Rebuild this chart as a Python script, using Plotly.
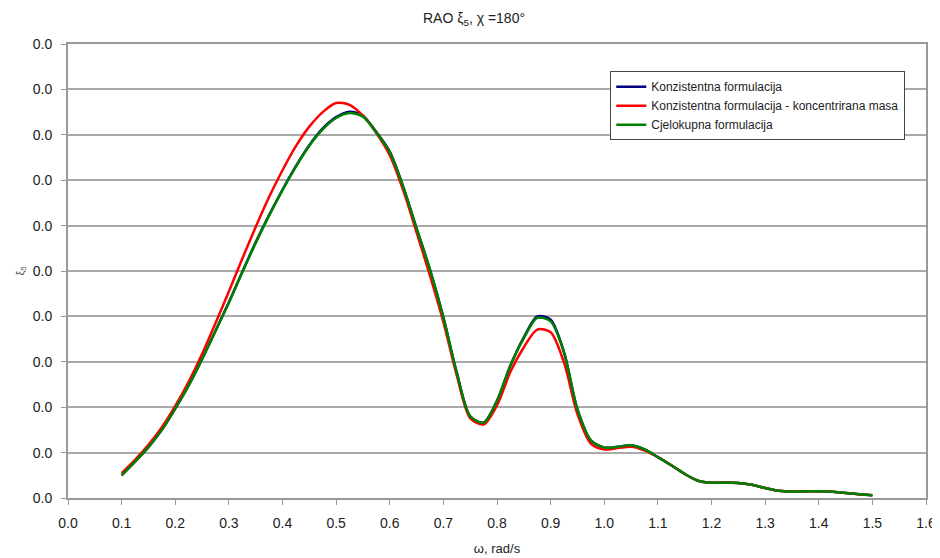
import plotly.graph_objects as go

# frequency points (rad/s)
omega = [0.100, 0.125, 0.150, 0.175, 0.200, 0.225, 0.250, 0.275, 0.300, 0.325,
         0.350, 0.375, 0.400, 0.425, 0.450, 0.475, 0.500, 0.525, 0.550, 0.575,
         0.600, 0.625, 0.650, 0.675, 0.700, 0.725, 0.750, 0.775, 0.800, 0.825,
         0.850, 0.875, 0.900, 0.925, 0.950, 0.975, 1.000, 1.025, 1.050, 1.075,
         1.100, 1.125, 1.150, 1.175, 1.200, 1.225, 1.250, 1.275, 1.300, 1.325,
         1.350, 1.375, 1.400, 1.425, 1.450, 1.475, 1.500]

konz = [0.50, 0.80, 1.12, 1.50, 1.97, 2.48, 3.06, 3.68, 4.31, 4.98,
        5.63, 6.23, 6.79, 7.31, 7.77, 8.14, 8.39, 8.51, 8.42, 8.06,
        7.63, 6.86, 5.94, 5.03, 3.98, 2.76, 1.80, 1.66, 2.14, 2.92,
        3.54, 4.00, 3.93, 3.21, 1.95, 1.27, 1.11, 1.13, 1.16, 1.07,
        0.90, 0.72, 0.53, 0.38, 0.335, 0.34, 0.33, 0.29, 0.22, 0.16,
        0.14, 0.145, 0.15, 0.14, 0.11, 0.085, 0.06]

konz_masa = [0.55, 0.84, 1.17, 1.56, 2.03, 2.56, 3.17, 3.85, 4.55, 5.27,
             5.97, 6.63, 7.22, 7.75, 8.18, 8.50, 8.70, 8.66, 8.42, 8.04,
             7.55, 6.78, 5.85, 4.90, 3.88, 2.70, 1.76, 1.62, 2.04, 2.78,
             3.32, 3.71, 3.65, 2.98, 1.85, 1.20, 1.07, 1.10, 1.13, 1.05,
             0.90, 0.72, 0.53, 0.38, 0.335, 0.34, 0.33, 0.29, 0.22, 0.16,
             0.14, 0.145, 0.15, 0.14, 0.11, 0.085, 0.06]

cjelokupna = [0.50, 0.80, 1.12, 1.50, 1.97, 2.48, 3.06, 3.68, 4.30, 4.97,
              5.62, 6.22, 6.78, 7.30, 7.76, 8.12, 8.37, 8.48, 8.40, 8.05,
              7.62, 6.86, 5.94, 5.03, 3.98, 2.76, 1.80, 1.66, 2.14, 2.92,
              3.52, 3.97, 3.89, 3.20, 1.95, 1.27, 1.11, 1.13, 1.16, 1.07,
              0.90, 0.72, 0.53, 0.38, 0.335, 0.34, 0.33, 0.29, 0.22, 0.16,
              0.14, 0.145, 0.15, 0.14, 0.11, 0.085, 0.06]

y_ticks = [0, 1, 2, 3, 4, 5, 6, 7, 8, 9, 10]
y_labels = ["0.0"] * 11
x_ticks = [0.0, 0.1, 0.2, 0.3, 0.4, 0.5, 0.6, 0.7, 0.8, 0.9, 1.0,
           1.1, 1.2, 1.3, 1.4, 1.5, 1.6]

series = [
    ("Konzistentna formulacija", konz, "#000080"),
    ("Konzistentna formulacija - koncentrirana masa", konz_masa, "#ff0000"),
    ("Cjelokupna formulacija", cjelokupna, "#008000"),
]

fig = go.Figure()
for name, vals, col in series:
    fig.add_trace(go.Scatter(
        x=omega, y=vals, name=name, mode="lines",
        line=dict(color=col, width=2.5, shape="spline", smoothing=0.8),
    ))

font_main = "Liberation Sans, Arial, sans-serif"

fig.update_xaxes(
    range=[0, 1.6],
    tickvals=x_ticks,
    ticktext=[f"{v:.1f}" for v in x_ticks],
    ticks="outside", ticklen=5, tickcolor="#999999", tickwidth=1,
    ticklabelstandoff=6,
    showline=True, linecolor="#999999", linewidth=2, mirror=True,
    showgrid=False, zeroline=False, automargin=False,
    tickfont=dict(size=14, color="#222222", family=font_main),
    title=dict(text="ω, rad/s", font=dict(size=13, color="#222222", family=font_main),
               standoff=14),
)
fig.update_yaxes(
    range=[0, 10],
    tickvals=y_ticks,
    ticktext=y_labels,
    ticks="outside", ticklen=5, tickcolor="#999999", tickwidth=1,
    ticklabelstandoff=6,
    showline=True, linecolor="#999999", linewidth=2, mirror=True,
    showgrid=True, gridcolor="#aaaaaa", gridwidth=2, zeroline=False,
    automargin=False,
    tickfont=dict(size=14, color="#222222", family=font_main),
    title=dict(text="ξ<sub>5</sub>", font=dict(size=11, color="#555555", family=font_main),
               standoff=6),
)

# page body has an 8px margin, so the figure is a bit smaller than the window
fig.update_layout(
    width=932, height=550,
    paper_bgcolor="white", plot_bgcolor="white",
    margin=dict(l=60, r=14, t=36, b=60),
    title=dict(text="RAO ξ<sub>5</sub>, χ =180°", x=0.5, xanchor="center",
               y=1, yanchor="top", pad=dict(t=5),
               font=dict(size=14, color="#222222", family=font_main)),
    legend=dict(
        x=0.632, y=0.94, xanchor="left", yanchor="top",
        bgcolor="white", bordercolor="#444444", borderwidth=1,
        font=dict(size=12, color="#222222", family=font_main),
        itemwidth=30, tracegroupgap=0,
    ),
    showlegend=True,
)

fig.write_html("out.html")
